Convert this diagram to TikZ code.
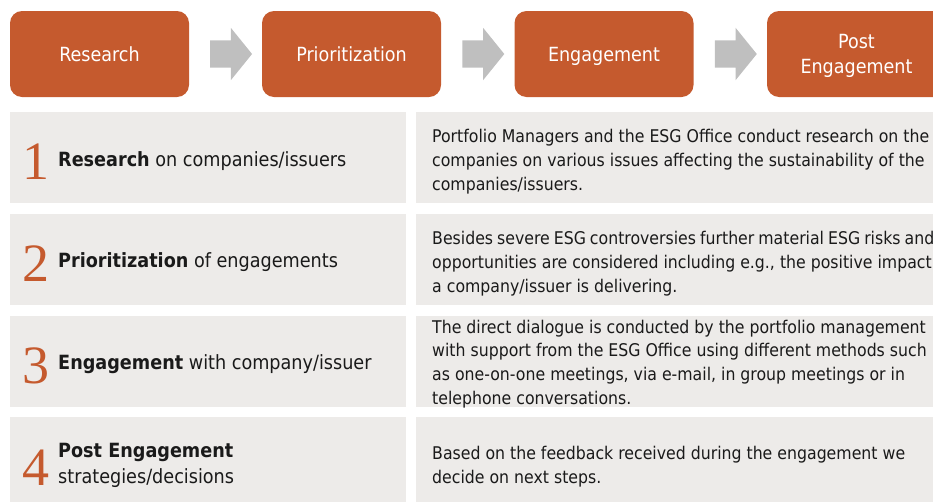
\documentclass[tikz,border=0pt]{standalone}
\usepackage{fontspec}
\setmainfont{DejaVu Sans Condensed}
\newfontfamily\numfont{Liberation Serif}
\usetikzlibrary{shapes.arrows,calc}
\definecolor{rust}{HTML}{C55A2E}
\definecolor{panelgray}{HTML}{EDEBE9}
\definecolor{chevgray}{HTML}{BFBFBF}
\definecolor{ink}{HTML}{1A1A1A}
\begin{document}
\begin{tikzpicture}[x=1pt,y=-1pt,
  stage/.style={fill=rust, rounded corners=12pt, minimum width=179pt, minimum height=86pt,
    inner sep=0pt, text=white, font=\fontsize{19.5}{25}\selectfont, align=center,
    text height=14.2pt, text depth=0pt},
  chevron/.style={single arrow, fill=chevgray, draw=none, inner xsep=0pt, inner ysep=13.5pt,
    text height=0pt, text depth=0pt, text width=0pt,
    minimum height=42pt, single arrow head extend=12.5pt, single arrow tip angle=102},
  panel/.style={fill=panelgray, inner sep=0pt, anchor=north west, minimum height=91pt},
  stepnum/.style={text=rust, font=\numfont\fontsize{54}{54}\selectfont, inner sep=0pt, anchor=base},
  steptitle/.style={text=ink, font=\fontsize{19.6}{26}\selectfont, inner sep=0pt, anchor=base west, align=left},
  stepbody/.style={text=ink, font=\fontsize{17.5}{23.6}\selectfont, inner sep=0pt, anchor=base west, align=left}]
\useasboundingbox (0,0) rectangle (933,501);
\clip (0,0) rectangle (933,501);

% process stages
\node[stage] (s1) at (99.5,54) {Research};
\node[stage] (s2) at (351.5,54) {Prioritization};
\node[stage] (s3) at (604,54) {Engagement};
\node[stage, text height=39.2pt] (s4) at (856.5,54) {Post\\Engagement};

% arrows between the stages
\node[chevron] (a1) at ($(s1.east)!0.5!(s2.west)$) {};
\node[chevron] (a2) at ($(s2.east)!0.5!(s3.west)$) {};
\node[chevron] (a3) at ($(s3.east)!0.5!(s4.west)$) {};

% panels of the four steps
\foreach \i/\y/\h in {1/112/91, 2/214/91, 3/316/91, 4/417/91} {
  \node[panel, minimum width=396pt, minimum height=\h pt] (l\i) at (10,\y) {};
  \node[panel, minimum width=530pt, minimum height=\h pt] (r\i) at (416,\y) {};
}

% step numbers
\node[stepnum] (n1) at (35.5,179) {1};
\node[stepnum] (n2) at (35.5,281) {2};
\node[stepnum] (n3) at (35.5,383) {3};
\node[stepnum] (n4) at (35.5,485) {4};

% step titles (anchored at the baseline of the last line)
\node[steptitle] (t1) at (58,166) {\textbf{Research} on companies/issuers};
\node[steptitle] (t2) at (58,267) {\textbf{Prioritization} of engagements};
\node[steptitle] (t3) at (58,369) {\textbf{Engagement} with company/issuer};
\node[steptitle] (t4) at (58,483) {\textbf{Post Engagement}\\strategies/decisions};

% step descriptions (anchored at the baseline of the last line)
\node[stepbody] (d1) at (432,190) {Portfolio Managers and the ESG Office conduct research on the\\companies on various issues affecting the sustainability of the\\companies/issuers.};
\node[stepbody] (d2) at (432,292) {{\spaceskip=4pt\relax Besides severe ESG controversies further material ESG risks and}\\opportunities are considered including e.g., the positive impact\\a company/issuer is delivering.};
\node[stepbody] (d3) at (432,404) {The direct dialogue is conducted by the portfolio management\\with support from the ESG Office using different methods such\\as one-on-one meetings, via e-mail, in group meetings or in\\telephone conversations.};
\node[stepbody] (d4) at (432,483) {Based on the feedback received during the engagement we\\decide on next steps.};
\end{tikzpicture}
\end{document}
